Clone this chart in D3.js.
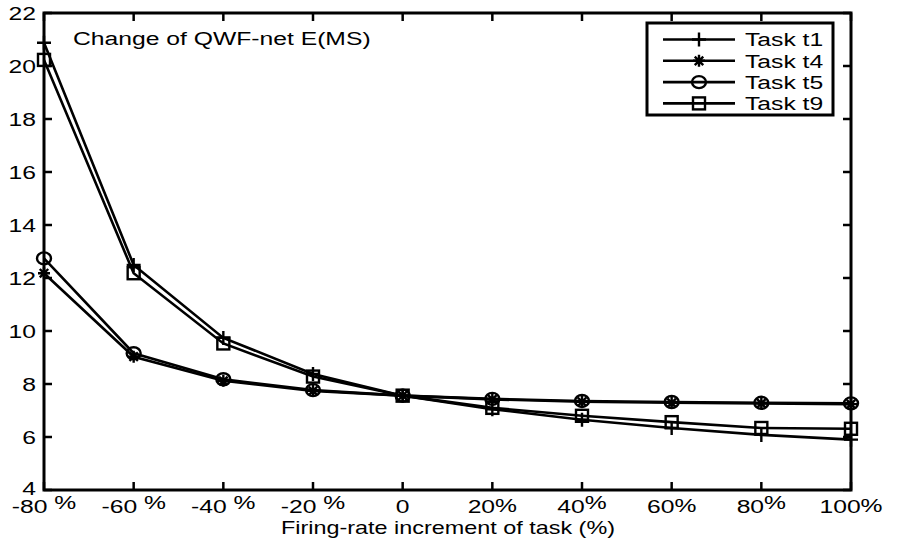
<!DOCTYPE html>
<html>
<head>
<meta charset="utf-8">
<script src="https://cdn.jsdelivr.net/npm/d3@7"></script>
<style>
  body { margin: 0; background: #fff; }
  svg { font-family: "Liberation Sans", Arial, sans-serif; }
</style>
</head>
<body>
<div id="chart"></div>
<script>
// x values (firing-rate increment, %)
var increments = [-80, -60, -40, -20, 0, 20, 40, 60, 80, 100];
var tickLabels = ["-80 %", "-60 %", "-40 %", "-20 %", "0", "20%", "40%", "60%", "80%", "100%"];
var yTicks = [4, 6, 8, 10, 12, 14, 16, 18, 20, 22];

// series
var t1 = [20.88, 12.49, 9.74, 8.38, 7.56, 7.05, 6.65, 6.34, 6.08, 5.9];
var t4 = [12.18, 9.03, 8.12, 7.74, 7.56, 7.42, 7.33, 7.29, 7.27, 7.24];
var t5 = [12.74, 9.16, 8.18, 7.77, 7.56, 7.44, 7.36, 7.32, 7.29, 7.27];
var t9 = [20.23, 12.18, 9.53, 8.28, 7.56, 7.1, 6.8, 6.56, 6.34, 6.31];

var seriesNames = ["Task t1", "Task t4", "Task t5", "Task t9"];
var seriesValues = [t1, t4, t5, t9];
var markerTypes = ["plus", "star", "circle", "square"];

var width = 898, height = 545;
var plotLeft = 44, plotRight = 851, plotTop = 13, plotBottom = 490;
var fontSize = 19;
var stretch = 1.3; // the original text looks widened

var svg = d3.select("#chart").append("svg")
    .attr("width", width).attr("height", height);

var x = d3.scaleLinear().domain([-80, 100]).range([plotLeft, plotRight]);
var y = d3.scaleLinear().domain([4, 22]).range([plotBottom, plotTop]);

// place a text at (px, py) and widen it horizontally
function placeText(sel, px, py) {
    return sel.attr("x", 0).attr("y", 0)
        .attr("transform", "translate(" + px + "," + py + ") scale(" + stretch + ",1)");
}

// marker drawing
function drawMarker(g, type, cx, cy) {
    if (type == "plus") {
        g.append("path").attr("d", "M" + (cx - 7) + "," + cy + "H" + (cx + 7) + "M" + cx + "," + (cy - 7) + "V" + (cy + 7))
            .attr("stroke", "#000").attr("stroke-width", 2.4).attr("fill", "none");
    } else if (type == "star") {
        var p = "";
        for (var k = 0; k < 4; k++) {
            var a = k * Math.PI / 4;
            var dx = 6 * Math.cos(a), dy = 6 * Math.sin(a);
            p += "M" + (cx - dx) + "," + (cy - dy) + "L" + (cx + dx) + "," + (cy + dy);
        }
        g.append("path").attr("d", p).attr("stroke", "#000").attr("stroke-width", 2.4).attr("fill", "none");
    } else if (type == "circle") {
        g.append("ellipse").attr("cx", cx).attr("cy", cy).attr("rx", 7).attr("ry", 6)
            .attr("stroke", "#000").attr("stroke-width", 2.4).attr("fill", "none");
    } else if (type == "square") {
        g.append("rect").attr("x", cx - 6).attr("y", cy - 6).attr("width", 12).attr("height", 12)
            .attr("stroke", "#000").attr("stroke-width", 2.4).attr("fill", "none");
    }
}

// ticks inward on all four sides
var tickG = svg.append("g").attr("stroke", "#000").attr("stroke-width", 2.5);
increments.forEach(function (d) {
    tickG.append("line").attr("x1", x(d)).attr("x2", x(d)).attr("y1", plotBottom).attr("y2", plotBottom - 8);
    tickG.append("line").attr("x1", x(d)).attr("x2", x(d)).attr("y1", plotTop).attr("y2", plotTop + 8);
});
yTicks.forEach(function (d) {
    tickG.append("line").attr("x1", plotLeft).attr("x2", plotLeft + 8).attr("y1", y(d)).attr("y2", y(d));
    tickG.append("line").attr("x1", plotRight).attr("x2", plotRight - 8).attr("y1", y(d)).attr("y2", y(d));
});

// y tick labels
svg.append("g").selectAll("text").data(yTicks).enter().append("text")
    .attr("dy", "0.35em").attr("text-anchor", "end").attr("font-size", fontSize)
    .text(function (d) { return d; })
    .each(function (d) { placeText(d3.select(this), plotLeft - 8, d == 4 ? y(d) - 2 : y(d)); });

// x tick labels, % sign sits a little higher
svg.append("g").selectAll("text").data(increments).enter().append("text")
    .attr("text-anchor", "middle").attr("font-size", fontSize)
    .each(function (d, i) {
        var lab = tickLabels[i];
        var t = d3.select(this);
        placeText(t, x(d), 513);
        if (lab.indexOf("%") < 0) { t.text(lab); return; }
        t.append("tspan").text(lab.replace("%", ""));
        t.append("tspan").attr("dy", (d == 40 || d == 80 || d < 0) ? -4 : -1).text("%");
    });

// axis title
placeText(svg.append("text"), 448, 534).attr("text-anchor", "middle")
    .attr("font-size", fontSize - 1).text("Firing-rate increment of task (%)");

// annotation
placeText(svg.append("text"), 73, 45).attr("font-size", fontSize).text("Change of QWF-net E(MS)");

// lines and markers
var line = d3.line().x(function (d, i) { return x(increments[i]); }).y(function (d) { return y(d); });
seriesValues.forEach(function (vals, s) {
    svg.append("path").datum(vals).attr("d", line)
        .attr("fill", "none").attr("stroke", "#000").attr("stroke-width", 2.6);
    var mg = svg.append("g");
    vals.forEach(function (v, i) { drawMarker(mg, markerTypes[s], x(increments[i]), y(v)); });
});

// plot frame
svg.append("rect").attr("x", plotLeft).attr("y", plotTop)
    .attr("width", plotRight - plotLeft).attr("height", plotBottom - plotTop)
    .attr("fill", "none").attr("stroke", "#000").attr("stroke-width", 3);

// legend
var lg = svg.append("g");
lg.append("rect").attr("x", 647).attr("y", 23).attr("width", 186).attr("height", 92)
    .attr("fill", "#fff").attr("stroke", "#000").attr("stroke-width", 3);
seriesNames.forEach(function (name, s) {
    var ly = 39.5 + s * 21.3;
    lg.append("line").attr("x1", 663).attr("x2", 735).attr("y1", ly).attr("y2", ly)
        .attr("stroke", "#000").attr("stroke-width", 2.6);
    drawMarker(lg, markerTypes[s], 699, ly);
    placeText(lg.append("text"), 745, ly).attr("dy", "0.36em")
        .attr("font-size", fontSize).text(name);
});
</script>
</body>
</html>
